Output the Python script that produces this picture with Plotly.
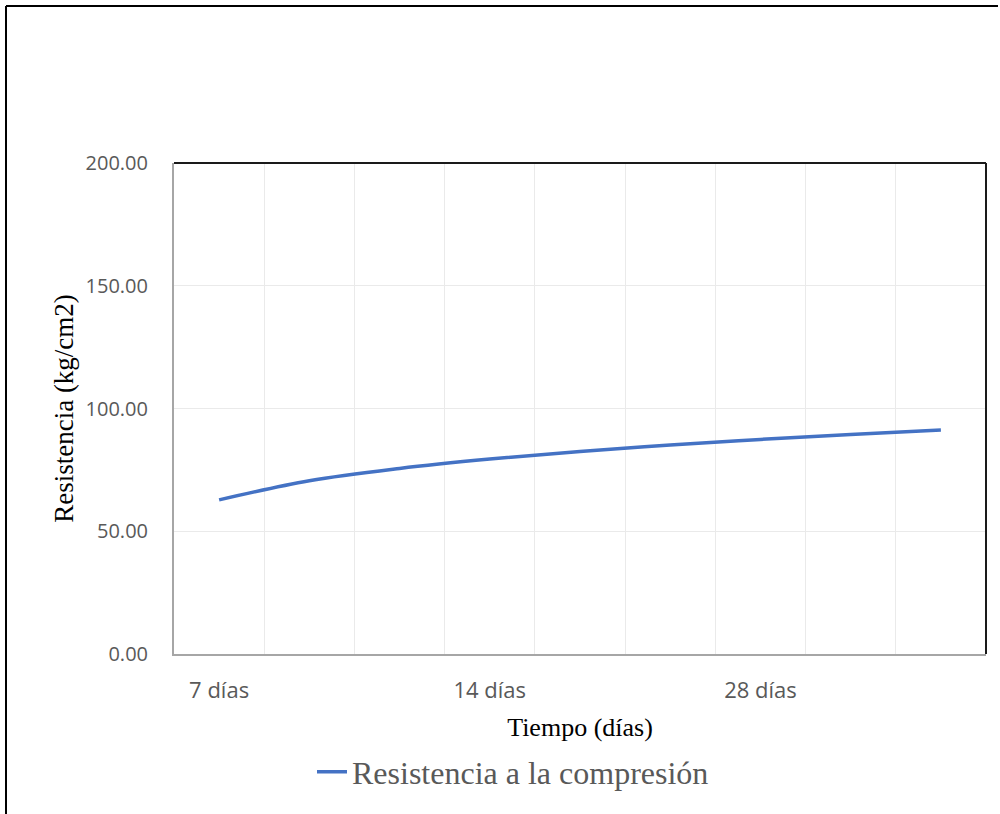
import plotly.graph_objects as go

# Compressive strength readings along the time axis
positions = [1, 2, 3, 4, 5, 6, 7, 8, 9]
resistencia = [62.8, 70.6, 75.6, 79.4, 82.5, 85.1, 87.4, 89.4, 91.2]

tick_positions = [1, 4, 7]
tick_labels = ["7 días", "14 días", "28 días"]

y_ticks = [0, 50, 100, 150, 200]

W, H = 1000, 814
L, R, T, B = 174, 14, 163, 160
pw, ph = W - L - R, H - T - B


def px_x(px):
    return (px - L) / pw


def px_y(py):
    return (H - B - py) / ph


fig = go.Figure()
fig.add_trace(go.Scatter(
    x=positions,
    y=resistencia,
    mode="lines",
    line=dict(color="#4472C4", width=3.5, shape="spline", smoothing=1.0),
    name="Resistencia a la compresión",
))

gray_text = "#595959"

fig.update_layout(
    width=W,
    height=H,
    margin=dict(l=L, r=R, t=T, b=B),
    paper_bgcolor="white",
    plot_bgcolor="white",
    showlegend=True,
    legend=dict(
        orientation="h",
        x=px_x(513), xanchor="center",
        y=px_y(772), yanchor="middle",
        font=dict(family="Liberation Serif", size=32, color=gray_text),
        bgcolor="rgba(0,0,0,0)",
    ),
    xaxis=dict(
        range=[0.5, 9.5],
        tickmode="array",
        tickvals=tick_positions,
        ticktext=tick_labels,
        showgrid=False,
        ticks="",
        ticklabelstandoff=16,
        tickfont=dict(family="Open Sans", size=22, color=gray_text),
        showline=True,
        linecolor="#A6A6A6",
        linewidth=2,
        zeroline=False,
        title=dict(
            text="Tiempo (días)",
            font=dict(family="Liberation Serif", size=26, color="black"),
            standoff=14,
        ),
        minor=dict(
            tick0=0.5, dtick=1, showgrid=True,
            gridcolor="#EAEAEA", gridwidth=1.2, ticks="",
        ),
        fixedrange=True,
    ),
    yaxis=dict(
        range=[0, 200],
        tickmode="array",
        tickvals=y_ticks,
        tickformat=".2f",
        showgrid=True,
        gridcolor="#EAEAEA",
        gridwidth=1.2,
        ticks="",
        ticklabelstandoff=20,
        tickfont=dict(family="Open Sans", size=20, color=gray_text),
        showline=True,
        linecolor="#A6A6A6",
        linewidth=2,
        zeroline=False,
        title=dict(
            text="Resistencia (kg/cm2)",
            font=dict(family="Liberation Serif", size=27, color="black"),
            standoff=4,
        ),
        fixedrange=True,
    ),
    shapes=[
        # top and right edges of the plot area
        dict(type="line", xref="paper", yref="paper", x0=0, x1=1, y0=1, y1=1,
             line=dict(color="#1a1a1a", width=2)),
        dict(type="line", xref="paper", yref="paper", x0=1, x1=1, y0=0, y1=1,
             line=dict(color="#1a1a1a", width=2)),
        # outer chart frame (top and left)
        dict(type="line", xref="paper", yref="paper",
             x0=px_x(6), x1=px_x(998), y0=px_y(6), y1=px_y(6),
             line=dict(color="black", width=2)),
        dict(type="line", xref="paper", yref="paper",
             x0=px_x(6), x1=px_x(6), y0=px_y(6), y1=px_y(820),
             line=dict(color="black", width=2)),
    ],
)

fig.write_html("out.html")
